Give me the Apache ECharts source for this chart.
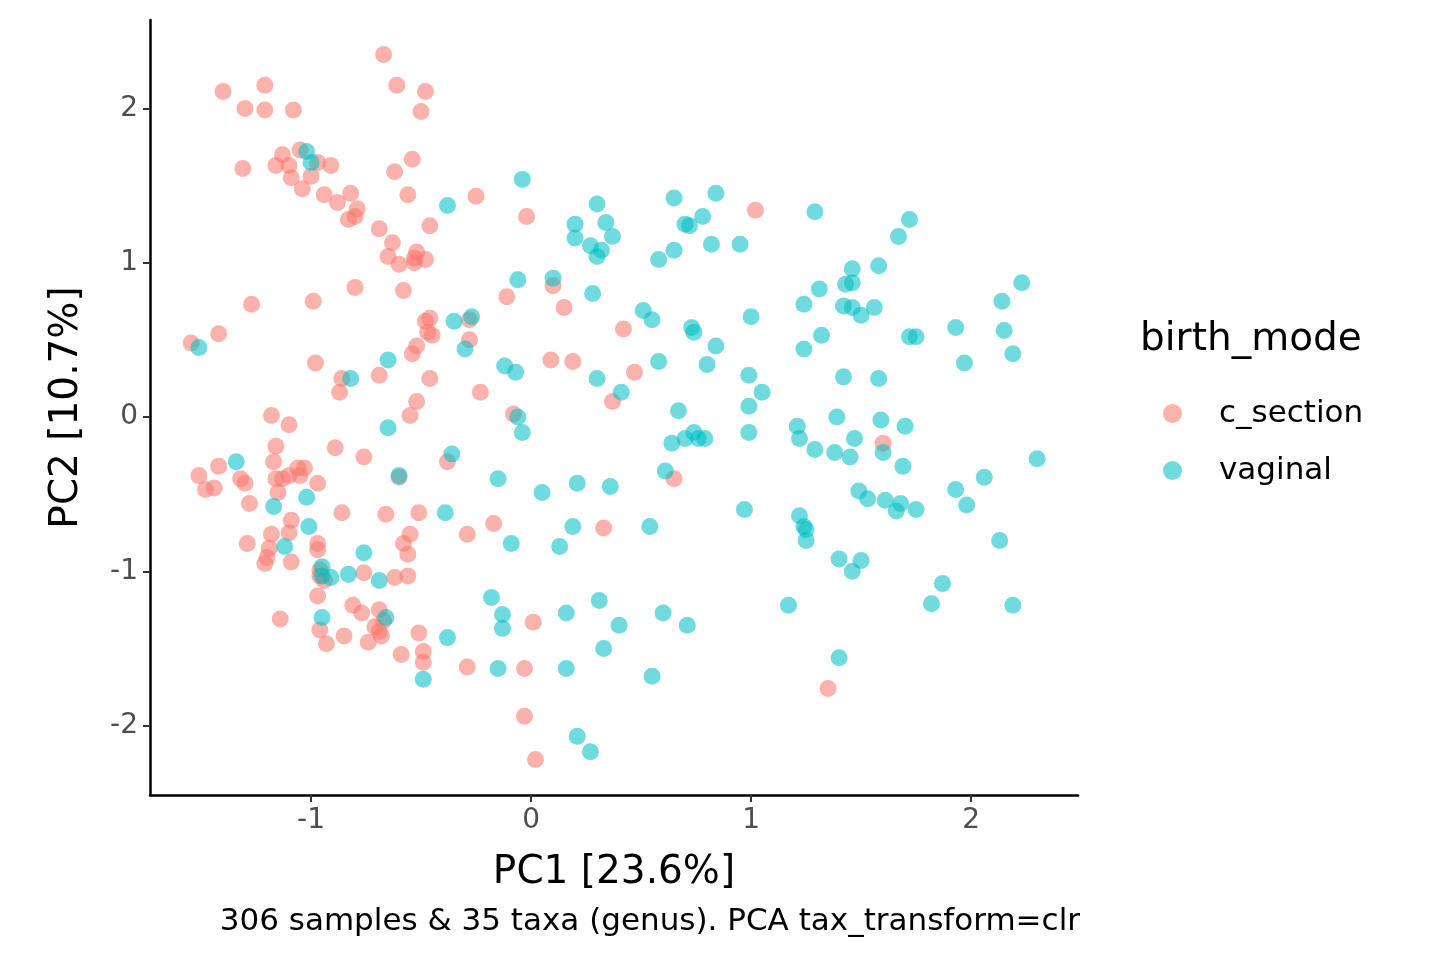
<!DOCTYPE html>
<html>
<head>
<meta charset="utf-8">
<script src="https://cdn.jsdelivr.net/npm/echarts@6/dist/echarts.min.js"></script>
<style>html,body{margin:0;padding:0;background:#fff}#chart{width:1440px;height:960px}</style>
</head>
<body>
<div id="chart"></div>
<script>
// 图例分组
var groups = ["c_section", "vaginal"];
var groupColors = ["rgba(248,118,109,0.7)", "rgba(0,191,196,0.7)"];
var xTicks = [-1, 0, 1, 2];
var yTicks = [-2, -1, 0, 1, 2];

// c_section 样本 [PC1, PC2]
var cSection = [
	[-1.545,0.48],[-1.40,2.11],[-1.30,2.00],[-1.21,1.99],[-1.21,2.15],[-1.08,1.99],[-1.31,1.61],[-1.16,1.63],
	[-1.13,1.70],[-1.10,1.63],[-1.05,1.73],[-1.09,1.55],[-1.04,1.48],[-1.00,1.56],[-0.97,1.65],[-0.91,1.63],
	[-0.94,1.44],[-0.88,1.39],[-0.82,1.45],[-0.83,1.28],[-0.80,1.30],[-0.79,1.35],[-0.67,2.35],[-0.61,2.15],
	[-0.48,2.11],[-0.50,1.98],[-0.54,1.67],[-0.62,1.59],[-0.56,1.44],[-0.69,1.22],[-0.63,1.13],[-0.65,1.04],
	[-0.60,0.99],[-0.53,1.03],[-0.52,1.07],[-0.53,1.00],[-0.48,1.02],[-0.46,1.24],[-0.25,1.43],[-0.02,1.30],
	[1.02,1.34],[-0.80,0.84],[-0.58,0.82],[-0.99,0.75],[-1.27,0.73],[-1.42,0.54],[-0.98,0.35],[-0.86,0.25],
	[-0.87,0.16],[-0.69,0.27],[-0.54,0.41],[-0.52,0.46],[-0.48,0.62],[-0.46,0.64],[-0.47,0.55],[-0.45,0.53],
	[-0.46,0.25],[-0.52,0.10],[-0.55,0.01],[-0.28,0.63],[-0.28,0.50],[-0.23,0.16],[-0.11,0.78],[0.10,0.85],
	[0.15,0.71],[0.09,0.37],[0.19,0.36],[0.42,0.57],[0.47,0.29],[0.37,0.10],[-0.08,0.02],[-1.18,0.01],
	[-1.10,-0.05],[-1.16,-0.19],[-1.17,-0.29],[-1.42,-0.32],[-1.51,-0.38],[-1.48,-0.47],[-1.44,-0.46],
	[-1.32,-0.40],[-1.30,-0.43],[-1.28,-0.56],[-1.16,-0.40],[-1.13,-0.40],[-1.10,-0.38],[-1.05,-0.38],
	[-1.03,-0.33],[-1.06,-0.33],[-1.15,-0.49],[-0.97,-0.43],[-0.89,-0.20],[-0.76,-0.26],[-0.38,-0.29],
	[-0.60,-0.39],[0.65,-0.40],[-1.29,-0.82],[-1.18,-0.76],[-1.19,-0.85],[-1.20,-0.91],[-1.21,-0.95],
	[-1.09,-0.67],[-1.10,-0.75],[-1.09,-0.94],[-0.97,-0.82],[-0.97,-0.86],[-0.96,-0.99],[-0.96,-1.03],
	[-0.94,-1.06],[-0.97,-1.16],[-0.86,-0.62],[-0.66,-0.63],[-0.55,-0.76],[-0.58,-0.82],[-0.56,-0.89],
	[-0.51,-0.62],[-0.62,-1.04],[-0.56,-1.03],[-0.76,-1.01],[-1.14,-1.31],[-0.96,-1.38],[-0.93,-1.47],
	[-0.85,-1.42],[-0.81,-1.22],[-0.77,-1.27],[-0.74,-1.46],[-0.71,-1.36],[-0.69,-1.25],[-0.69,-1.39],
	[-0.68,-1.42],[-0.67,-1.32],[-0.59,-1.54],[-0.51,-1.40],[-0.49,-1.52],[-0.49,-1.59],[-0.29,-1.62],
	[-0.29,-0.76],[-0.17,-0.69],[0.01,-1.33],[-0.03,-1.63],[-0.03,-1.94],[0.02,-2.22],[0.33,-0.72],
	[1.35,-1.76],[1.60,-0.17]
];

// vaginal 样本 [PC1, PC2]
var vaginal = [
	[-1.51,0.45],[-1.02,1.72],[-1.00,1.65],[-0.38,1.37],[-0.04,1.54],[-0.06,0.89],[0.10,0.90],[0.20,1.25],
	[0.20,1.16],[0.27,1.11],[0.30,1.38],[0.34,1.26],[0.30,1.04],[0.32,1.08],[0.37,1.17],[0.28,0.80],
	[0.65,1.42],[0.70,1.25],[0.72,1.24],[0.78,1.30],[0.84,1.45],[0.82,1.12],[0.65,1.08],[0.58,1.02],
	[0.95,1.12],[1.29,1.33],[1.72,1.28],[1.67,1.17],[1.46,0.96],[1.58,0.98],[2.23,0.87],[1.46,0.87],
	[1.43,0.86],[1.31,0.83],[1.24,0.73],[1.42,0.72],[1.46,0.71],[1.56,0.71],[1.50,0.66],[1.32,0.53],
	[1.24,0.44],[2.14,0.75],[2.15,0.56],[1.93,0.58],[1.72,0.52],[1.75,0.52],[2.19,0.41],[1.97,0.35],
	[1.00,0.65],[0.51,0.69],[0.55,0.63],[0.73,0.58],[0.74,0.55],[0.84,0.46],[0.58,0.36],[0.80,0.34],
	[0.99,0.27],[1.05,0.16],[0.99,0.07],[1.42,0.26],[1.58,0.25],[0.30,0.25],[0.41,0.16],[-0.35,0.62],
	[-0.27,0.65],[-0.30,0.44],[-0.65,0.37],[-0.82,0.25],[-0.12,0.33],[-0.07,0.29],[-0.06,0.00],
	[-0.04,-0.10],[-0.65,-0.07],[-0.36,-0.24],[-0.60,-0.38],[-1.02,-0.52],[-1.34,-0.29],[-1.17,-0.58],
	[-1.12,-0.84],[-1.01,-0.71],[-0.76,-0.88],[-0.95,-0.97],[-0.95,-1.03],[-0.91,-1.04],[-0.83,-1.02],
	[-0.69,-1.06],[-0.95,-1.30],[-0.66,-1.30],[-0.39,-0.62],[-0.15,-0.40],[0.05,-0.49],[0.21,-0.43],
	[0.36,-0.45],[-0.09,-0.82],[0.13,-0.84],[0.19,-0.71],[0.54,-0.71],[-0.18,-1.17],[-0.13,-1.28],
	[-0.13,-1.37],[0.16,-1.27],[0.31,-1.19],[0.40,-1.35],[0.33,-1.50],[0.60,-1.27],[0.71,-1.35],
	[-0.38,-1.43],[-0.15,-1.63],[0.16,-1.63],[0.55,-1.68],[-0.49,-1.70],[0.21,-2.07],[0.27,-2.17],
	[0.67,0.04],[0.64,-0.17],[0.70,-0.14],[0.74,-0.10],[0.76,-0.14],[0.79,-0.14],[0.61,-0.35],
	[0.99,-0.10],[0.97,-0.60],[1.21,-0.06],[1.22,-0.14],[1.29,-0.21],[1.39,0.00],[1.38,-0.23],
	[1.45,-0.26],[1.47,-0.14],[1.59,-0.02],[1.60,-0.23],[1.70,-0.06],[1.69,-0.32],[1.49,-0.48],
	[1.53,-0.53],[1.61,-0.54],[1.66,-0.61],[1.68,-0.56],[1.75,-0.60],[1.93,-0.47],[1.98,-0.57],
	[2.06,-0.39],[2.30,-0.27],[2.13,-0.80],[1.22,-0.64],[1.24,-0.71],[1.25,-0.73],[1.25,-0.80],
	[1.40,-0.92],[1.50,-0.93],[1.46,-1.00],[1.17,-1.22],[1.40,-1.56],[1.87,-1.08],[1.82,-1.21],
	[2.19,-1.22]
];

var font = "DejaVu Sans";
var chart = echarts.init(document.getElementById("chart"));

function axisCommon(ticks) {
	return {
		scale: true,
		splitLine: { show: false },
		axisLine: { onZero: false, lineStyle: { color: "#000", width: 2.5 } },
		axisTick: { show: true, length: 7, lineStyle: { color: "#333", width: 2 }, customValues: ticks },
		axisLabel: { color: "#4d4d4d", fontSize: 28, fontFamily: font, customValues: ticks }
	};
}

var xAxis = axisCommon(xTicks);
xAxis.type = "value";
xAxis.min = -1.732;
xAxis.max = 2.486;
xAxis.name = "PC1 [23.6%]";
xAxis.nameLocation = "middle";
xAxis.nameGap = 58;
xAxis.nameTextStyle = { color: "#000", fontSize: 39, fontFamily: font };
xAxis.axisLabel.margin = 12;

var yAxis = axisCommon(yTicks);
yAxis.type = "value";
yAxis.min = -2.45;
yAxis.max = 2.573;
yAxis.name = "PC2 [10.7%]";
yAxis.nameLocation = "middle";
yAxis.nameGap = 64;
yAxis.nameTextStyle = { color: "#000", fontSize: 39, fontFamily: font };
yAxis.axisLabel.margin = 12;

var option = {
	animation: false,
	backgroundColor: "#fff",
	grid: { left: 150, right: 362, top: 20, bottom: 165 },
	xAxis: xAxis,
	yAxis: yAxis,
	legend: {
		orient: "vertical",
		left: 1158,
		top: 393,
		itemGap: 26,
		itemWidth: 19,
		itemHeight: 19,
		icon: "circle",
		textStyle: { fontSize: 31, fontFamily: font, color: "#000", padding: [0, 0, 0, 32] },
		data: groups
	},
	graphic: [
		{ type: "text", left: 1140, top: 320, style: { text: "birth_mode", fontSize: 39, fontFamily: font, fill: "#000" } },
		{ type: "text", right: 360, top: 906, style: { text: "306 samples & 35 taxa (genus). PCA tax_transform=clr", fontSize: 31, fontFamily: font, fill: "#000" } }
	],
	series: [
		{ name: groups[0], type: "scatter", symbolSize: 17, itemStyle: { color: groupColors[0] }, data: cSection },
		{ name: groups[1], type: "scatter", symbolSize: 17, itemStyle: { color: groupColors[1] }, data: vaginal }
	]
};
chart.setOption(option);
</script>
</body>
</html>
